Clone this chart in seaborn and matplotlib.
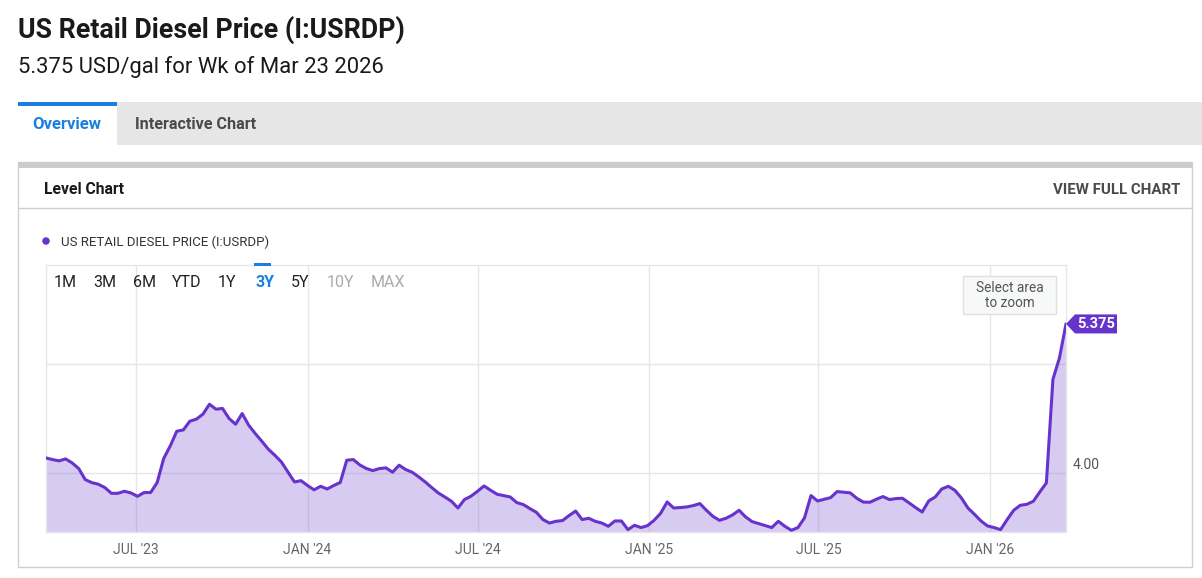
import numpy as np
import pandas as pd
import matplotlib
matplotlib.use("Agg")
import matplotlib.pyplot as plt
from matplotlib.patches import Rectangle, Ellipse, Polygon
import seaborn as sns

# weekly US retail diesel price, USD/gal
week_start = "2023-03-27"
prices = [
    4.135, 4.120, 4.108, 4.126, 4.089, 4.037, 3.935, 3.907, 3.892, 3.861,
    3.808, 3.808, 3.827, 3.811, 3.780, 3.815, 3.815, 3.907, 4.130, 4.246,
    4.382, 4.394, 4.475, 4.494, 4.540, 4.632, 4.586, 4.593, 4.500, 4.447,
    4.546, 4.438, 4.361, 4.290, 4.216, 4.160, 4.098, 4.006, 3.913, 3.925,
    3.880, 3.840, 3.873, 3.848, 3.880, 3.908, 4.114, 4.120, 4.070, 4.037,
    4.018, 4.037, 4.043, 4.003, 4.068, 4.028, 4.003, 3.960, 3.913, 3.861,
    3.811, 3.774, 3.735, 3.672, 3.750, 3.781, 3.827, 3.876, 3.836, 3.799,
    3.787, 3.774, 3.722, 3.704, 3.667, 3.632, 3.565, 3.533, 3.549, 3.556,
    3.602, 3.644, 3.565, 3.577, 3.549, 3.533, 3.503, 3.552, 3.552, 3.472,
    3.512, 3.491, 3.509, 3.558, 3.623, 3.728, 3.672, 3.676, 3.682, 3.694,
    3.713, 3.651, 3.595, 3.558, 3.577, 3.608, 3.651, 3.589, 3.546, 3.528,
    3.509, 3.491, 3.549, 3.503, 3.466, 3.491, 3.580, 3.787, 3.737, 3.753,
    3.768, 3.824, 3.818, 3.812, 3.762, 3.727, 3.725, 3.753, 3.778, 3.750,
    3.759, 3.762, 3.719, 3.676, 3.635, 3.737, 3.774, 3.848, 3.873, 3.836,
    3.765, 3.672, 3.614, 3.552, 3.506, 3.491, 3.472, 3.565, 3.651, 3.697,
    3.706, 3.734, 3.821, 3.904, 4.862, 5.061, 5.375,
]
tick_dates = ["2023-07-01", "2024-01-01", "2024-07-01", "2025-01-01", "2025-07-01", "2026-01-01"]
tick_labels = ["JUL '23", "JAN '24", "JUL '24", "JAN '25", "JUL '25", "JAN '26"]
range_buttons = ["1M", "3M", "6M", "YTD", "1Y", "3Y", "5Y", "10Y", "MAX"]
range_x = [54, 93, 133, 172, 218, 255, 291, 327, 371]

df = pd.DataFrame({
    "date": pd.date_range(week_start, periods=len(prices), freq="7D"),
    "price": prices,
})

sns.set_style("white")
plt.rcParams["font.family"] = ["Roboto", "DejaVu Sans"]

W, H = 1202, 578
purple = "#6633cc"
blue = "#1a7fe0"
grid_c = "#e6e6e6"


def fx(x):
    return x / W


def fy(y):
    return 1 - y / H


def rect(x0, y0, x1, y1, **kw):
    kw.setdefault("zorder", -5)
    fig.add_artist(Rectangle((fx(x0), fy(y1)), fx(x1) - fx(x0), fy(y0) - fy(y1),
                             transform=fig.transFigure, **kw))


fig = plt.figure(figsize=(W / 100, H / 100), dpi=100)
fig.patch.set_facecolor("white")

# header
fig.text(fx(18), fy(37.5), "US Retail Diesel Price (I:USRDP)", fontsize=19.3,
         fontweight="bold", color="#1a1a1a", va="baseline")
fig.text(fx(18), fy(72.5), "5.375 USD/gal for Wk of Mar 23 2026", fontsize=15.8,
         color="#1a1a1a", va="baseline")

# tabs
rect(18, 102, W, 145, facecolor="#e6e6e6", edgecolor="none")
rect(18, 106, 117, 145, facecolor="white", edgecolor="none", zorder=-4)
rect(18, 102, 117, 106, facecolor=blue, edgecolor="none", zorder=-4)
fig.text(fx(67), fy(129.3), "Overview", fontsize=12, fontweight="bold",
         color=blue, ha="center", va="baseline")
fig.text(fx(135), fy(129.3), "Interactive Chart", fontsize=11.6, fontweight="bold",
         color="#4a4a4a", va="baseline")

# card
rect(18, 162, 1192, 567, facecolor="white", edgecolor="#d0d0d0", linewidth=1)
rect(18, 162, 1192, 168, facecolor="#cccccc", edgecolor="none", zorder=-4)
fig.add_artist(plt.Line2D([fx(18), fx(1192)], [fy(207.5), fy(207.5)],
                          color="#d0d0d0", lw=1, transform=fig.transFigure))
fig.text(fx(44), fy(194.3), "Level Chart", fontsize=11.3, fontweight="bold",
         color="#1a1a1a", va="baseline")
fig.text(fx(1180), fy(194.3), "VIEW FULL CHART", fontsize=10.8, fontweight="bold",
         color="#4a4a4a", ha="right", va="baseline")

# legend
fig.add_artist(Ellipse((fx(46), fy(241)), 7.5 / W, 7.5 / H, transform=fig.transFigure,
                       facecolor=purple, edgecolor="none"))
fig.text(fx(61), fy(246), "US RETAIL DIESEL PRICE (I:USRDP)", fontsize=9.5,
         color="#333333", va="baseline")

# plot area
ax = fig.add_axes([fx(46), fy(532), fx(1066) - fx(46), (532 - 265) / H])
y_min, y_max = 3.45, 5.92
ax.set_ylim(y_min, y_max)
ax.set_xlim(df["date"].iloc[0], df["date"].iloc[-1])
ax.set_axisbelow(True)
ax.fill_between(df["date"], df["price"], y_min, color=purple, alpha=0.25, lw=0, zorder=1)
sns.lineplot(data=df, x="date", y="price", ax=ax, color=purple, lw=2.2, zorder=3)

ax.set_xticks(pd.to_datetime(tick_dates))
ax.set_xticklabels(tick_labels, fontsize=10, color="#666666")
ax.set_yticks([4.0, 5.0])
ax.set_yticklabels([])
ax.tick_params(length=0, pad=8)
ax.grid(True, color=grid_c, lw=1)
ax.set_xlabel("")
ax.set_ylabel("")
for s in ax.spines.values():
    s.set_color(grid_c)
    s.set_linewidth(1)
ax.patch.set_alpha(0)

ax.annotate("4.00", xy=(1, 4.0), xycoords=("axes fraction", "data"),
            xytext=(7, 8), textcoords="offset pixels", va="center",
            fontsize=10, color="#555555", annotation_clip=False)

# range selector
for lab, x in zip(range_buttons, range_x):
    col = "#222222"
    if lab == "3Y":
        col = blue
    elif lab in ("10Y", "MAX"):
        col = "#aaaaaa"
    fig.text(fx(x), fy(287.3), lab, fontsize=11.5, color=col, va="baseline",
             fontweight="bold" if lab == "3Y" else "normal")
rect(254, 263, 271, 266, facecolor=blue, edgecolor="none", zorder=4)

# zoom hint
rect(963, 276, 1055.5, 314, facecolor="#f7f8f8", edgecolor="#e0e0e0", linewidth=1, zorder=4)
fig.text(fx(1009.5), fy(292.5), "Select area", fontsize=9.8, color="#555555",
         ha="center", va="baseline", zorder=5)
fig.text(fx(1009.5), fy(307.3), "to zoom", fontsize=9.8, color="#555555",
         ha="center", va="baseline", zorder=5)

# last value tag
fig.canvas.draw()
tip = ax.transData.transform((matplotlib.dates.date2num(df["date"].iloc[-1]), df["price"].iloc[-1]))
tx, ty = tip[0], tip[1]
pts = [(tx, ty), (tx + 9, ty + 9.5), (tx + 51, ty + 9.5), (tx + 51, ty - 9.5), (tx + 9, ty - 9.5)]
pts_fig = [(p[0] / W, p[1] / H) for p in pts]
fig.add_artist(Polygon(pts_fig, closed=True, transform=fig.transFigure,
                       facecolor=purple, edgecolor="none", zorder=6))
fig.text((tx + 30) / W, ty / H, f"{df['price'].iloc[-1]:.3f}", fontsize=10.5,
         fontweight="bold", color="white", ha="center", va="center", zorder=7)

fig.savefig("out.png", dpi=100)
